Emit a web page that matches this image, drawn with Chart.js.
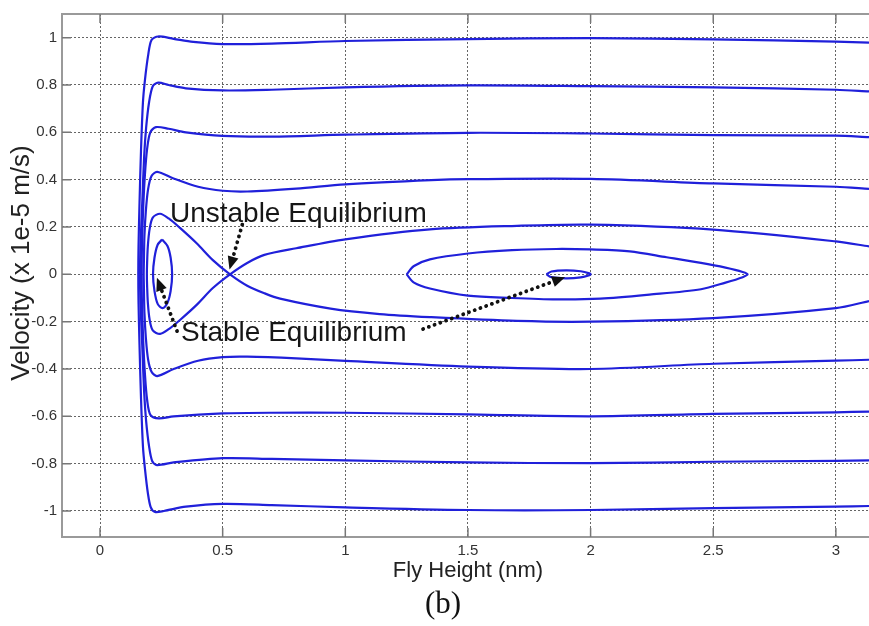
<!DOCTYPE html>
<html lang="en">
<head>
	<meta charset="UTF-8">
	<title>Phase portrait (b)</title>
	<script src="https://cdn.jsdelivr.net/npm/chart.js"></script>
	<style>
		body { margin: 0; background: #fff; }
		canvas { display: block; }
	</style>
</head>
<body>
	<canvas id="phaseChart" width="869" height="626"></canvas>
<script>

// tick labels
const xTicks = [0, 0.5, 1, 1.5, 2, 2.5, 3];
const yTicks = [-1, -0.8, -0.6, -0.4, -0.2, 0, 0.2, 0.4, 0.6, 0.8, 1];

// trajectories, [fly height nm, velocity x1e-5 m/s]
const orbit10 = [
	[3.135, 0.979], [3.0, 0.983], [2.5, 0.993], [2.0, 0.998], [1.5, 0.994], [1.0, 0.986],
	[0.7, 0.975], [0.5, 0.973], [0.38, 0.982], [0.3, 0.995], [0.237, 1.005], [0.21, 0.99],
	[0.196, 0.924], [0.183, 0.82], [0.175, 0.727], [0.167, 0.52], [0.161, 0.3], [0.157, 0.12],
	[0.156, 0], [0.157, -0.12], [0.161, -0.3], [0.167, -0.52], [0.175, -0.727], [0.183, -0.82],
	[0.195, -0.924], [0.207, -0.985], [0.224, -1.004], [0.26, -1.0], [0.35, -0.982], [0.5, -0.97],
	[0.7, -0.975], [1.0, -0.985], [1.5, -0.996], [2.0, -0.996], [2.5, -0.988], [3.0, -0.982], [3.135, -0.979]
];
const orbit08 = [
	[3.135, 0.773], [3.0, 0.78], [2.5, 0.79], [2.0, 0.795], [1.5, 0.798], [1.0, 0.79],
	[0.7, 0.78], [0.5, 0.777], [0.35, 0.786], [0.28, 0.8], [0.237, 0.81], [0.215, 0.795],
	[0.2, 0.727], [0.188, 0.62], [0.18, 0.5], [0.172, 0.3], [0.165, 0.12], [0.163, 0],
	[0.165, -0.12], [0.172, -0.3], [0.18, -0.5], [0.188, -0.62], [0.2, -0.727], [0.213, -0.79],
	[0.232, -0.806], [0.3, -0.795], [0.5, -0.777], [0.7, -0.78], [1.0, -0.786], [1.5, -0.795],
	[2.0, -0.798], [2.5, -0.792], [3.0, -0.788], [3.135, -0.786]
];
const orbit06 = [
	[3.135, 0.58], [3.0, 0.586], [2.5, 0.588], [2.0, 0.595], [1.5, 0.598], [1.0, 0.59],
	[0.7, 0.582], [0.5, 0.585], [0.35, 0.6], [0.28, 0.615], [0.228, 0.622], [0.205, 0.6],
	[0.192, 0.53], [0.183, 0.42], [0.176, 0.28], [0.171, 0.12], [0.17, 0],
	[0.171, -0.12], [0.176, -0.28], [0.183, -0.42], [0.192, -0.53], [0.206, -0.595],
	[0.24, -0.609], [0.3, -0.6], [0.5, -0.588], [0.7, -0.585], [1.0, -0.585], [1.5, -0.592],
	[2.0, -0.6], [2.5, -0.59], [3.0, -0.583], [3.135, -0.58]
];
const orbit04 = [
	[3.135, 0.361], [3.0, 0.37], [2.5, 0.384], [2.0, 0.403], [1.5, 0.402], [1.35, 0.398],
	[1.0, 0.38], [0.8, 0.362], [0.6, 0.35], [0.5, 0.353], [0.4, 0.37], [0.3, 0.405],
	[0.233, 0.433], [0.21, 0.415], [0.196, 0.36], [0.187, 0.27], [0.181, 0.16], [0.179, 0.06],
	[0.178, 0], [0.179, -0.06], [0.181, -0.16], [0.187, -0.27], [0.196, -0.36], [0.21, -0.412],
	[0.233, -0.43], [0.3, -0.4], [0.4, -0.365], [0.5, -0.35], [0.6, -0.348], [0.8, -0.355],
	[1.0, -0.366], [1.5, -0.39], [2.0, -0.4], [2.5, -0.378], [3.0, -0.365], [3.135, -0.361]
];
// separatrix through the saddle
const separatrix = [
	[3.135, 0.118], [3.0, 0.139], [2.5, 0.189], [2.0, 0.21], [1.7, 0.205], [1.345, 0.19],
	[1.0, 0.148], [0.8, 0.11], [0.67, 0.082], [0.6, 0.048], [0.53, 0], [0.46, -0.058],
	[0.395, -0.128], [0.326, -0.193], [0.28, -0.232], [0.245, -0.252], [0.215, -0.237],
	[0.202, -0.19], [0.195, -0.12], [0.192, -0.05], [0.191, 0], [0.192, 0.05], [0.195, 0.12],
	[0.202, 0.19], [0.215, 0.24], [0.245, 0.256], [0.28, 0.236], [0.326, 0.196], [0.395, 0.13],
	[0.46, 0.06], [0.53, 0], [0.6, -0.048], [0.67, -0.08], [0.734, -0.103], [0.94, -0.145],
	[1.14, -0.168], [1.345, -0.181], [1.7, -0.197], [2.0, -0.2], [2.5, -0.185], [3.0, -0.143],
	[3.135, -0.113]
];
const leftLoop = [
	[0.253, 0.147], [0.275, 0.12], [0.288, 0.07], [0.294, 0], [0.288, -0.07], [0.275, -0.12],
	[0.255, -0.143], [0.235, -0.125], [0.222, -0.07], [0.216, 0], [0.222, 0.07], [0.235, 0.125],
	[0.253, 0.147]
];
const bigLoop = [
	[1.25, 0], [1.28, 0.035], [1.345, 0.063], [1.5, 0.088], [1.68, 0.102], [1.86, 0.107],
	[2.0, 0.105], [2.16, 0.097], [2.31, 0.072], [2.45, 0.048], [2.55, 0.028], [2.62, 0.01],
	[2.64, 0], [2.62, -0.012], [2.55, -0.035], [2.45, -0.063], [2.24, -0.086], [2.04, -0.103],
	[1.86, -0.106], [1.68, -0.1], [1.5, -0.09], [1.345, -0.06], [1.28, -0.035], [1.25, 0]
];
const smallLoop = [
	[1.82, 0], [1.84, 0.012], [1.9, 0.017], [1.96, 0.013], [1.995, 0.004], [2.0, 0],
	[1.995, -0.004], [1.96, -0.013], [1.9, -0.017], [1.84, -0.012], [1.82, 0]
];

const curves = [orbit10, orbit08, orbit06, orbit04, separatrix, leftLoop, bigLoop, smallLoop];

// annotations in data units
const notes = [
	{ text: 'Unstable Equilibrium', x: 0.285, y: 0.223 },
	{ text: 'Stable Equilibrium', x: 0.33, y: -0.282 }
];
const arrows = [
	{ from: [0.58, 0.21], to: [0.528, 0.02] },
	{ from: [0.314, -0.24], to: [0.232, -0.015] },
	{ from: [1.317, -0.231], to: [1.896, -0.012] }
];

const blue = 'rgb(32,32,218)';

const toPts = arr => arr.map(p => ({ x: p[0], y: p[1] }));

const decorPlugin = {
	id: 'decor',
	afterDatasetsDraw(chart) {
		const ctx = chart.ctx;
		const a = chart.chartArea;
		const xs = chart.scales.x, ys = chart.scales.y;

		// frame + inward ticks
		ctx.save();
		ctx.strokeStyle = '#9a9a9a';
		ctx.lineWidth = 2;
		ctx.beginPath();
		ctx.moveTo(a.right + 2, a.top); ctx.lineTo(a.left, a.top);
		ctx.lineTo(a.left, a.bottom); ctx.lineTo(a.right + 2, a.bottom);
		ctx.stroke();
		ctx.strokeStyle = '#777';
		ctx.lineWidth = 1.5;
		ctx.beginPath();
		xTicks.forEach(v => {
			const px = xs.getPixelForValue(v);
			ctx.moveTo(px, a.bottom); ctx.lineTo(px, a.bottom - 9);
			ctx.moveTo(px, a.top); ctx.lineTo(px, a.top + 9);
		});
		yTicks.forEach(v => {
			const py = ys.getPixelForValue(v);
			ctx.moveTo(a.left, py); ctx.lineTo(a.left + 9, py);
		});
		ctx.stroke();
		ctx.restore();

		// dotted arrows
		ctx.save();
		arrows.forEach(ar => {
			const x0 = xs.getPixelForValue(ar.from[0]), y0 = ys.getPixelForValue(ar.from[1]);
			const x1 = xs.getPixelForValue(ar.to[0]), y1 = ys.getPixelForValue(ar.to[1]);
			const ang = Math.atan2(y1 - y0, x1 - x0);
			const head = 13;
			const bx = x1 - head * Math.cos(ang), by = y1 - head * Math.sin(ang);
			ctx.strokeStyle = '#111';
			ctx.lineWidth = 3.8;
			ctx.lineCap = 'round';
			ctx.setLineDash([0.1, 6]);
			ctx.beginPath();
			ctx.moveTo(x0, y0); ctx.lineTo(bx, by);
			ctx.stroke();
			ctx.setLineDash([]);
			ctx.fillStyle = '#111';
			ctx.beginPath();
			ctx.moveTo(x1, y1);
			ctx.lineTo(bx + 5.5 * Math.sin(ang), by - 5.5 * Math.cos(ang));
			ctx.lineTo(bx - 5.5 * Math.sin(ang), by + 5.5 * Math.cos(ang));
			ctx.closePath();
			ctx.fill();
		});
		ctx.restore();

		// labels
		ctx.save();
		ctx.fillStyle = '#161616';
		ctx.font = '28px "Liberation Sans", Arial, sans-serif';
		ctx.textAlign = 'left';
		ctx.textBaseline = 'alphabetic';
		notes.forEach(n => {
			ctx.fillText(n.text, xs.getPixelForValue(n.x), ys.getPixelForValue(n.y));
		});
		ctx.restore();
	},
	afterDraw(chart) {
		const ctx = chart.ctx;
		ctx.save();
		ctx.fillStyle = '#222';
		ctx.textAlign = 'center';
		ctx.textBaseline = 'middle';
		ctx.font = '22px "Liberation Sans", Arial, sans-serif';
		ctx.fillText('Fly Height (nm)', 468, 571);
		ctx.font = '31px "Liberation Serif", "Times New Roman", serif';
		ctx.fillStyle = '#111';
		ctx.fillText('(b)', 443, 605);
		ctx.translate(22, 263);
		ctx.rotate(-Math.PI / 2);
		ctx.fillStyle = '#222';
		ctx.font = '26px "Liberation Sans", Arial, sans-serif';
		ctx.fillText('Velocity (x 1e-5 m/s)', 0, 0);
		ctx.restore();
	}
};

const fmt = v => String(Math.round(v * 10) / 10);

const ctx = document.getElementById('phaseChart').getContext('2d');
const phaseChart = new Chart(ctx, {
	type: 'scatter',
	data: {
		datasets: curves.map(c => ({
			data: toPts(c),
			showLine: true,
			borderColor: blue,
			borderWidth: 2.2,
			pointRadius: 0,
			fill: false,
			tension: 0.3
		}))
	},
	options: {
		responsive: false,
		animation: false,
		devicePixelRatio: 1,
		layout: { padding: { top: 11, right: 0, left: 0, bottom: 0 } },
		plugins: { legend: { display: false }, tooltip: { enabled: false } },
		scales: {
			x: {
				type: 'linear',
				min: -0.155,
				max: 3.135,
				afterBuildTicks: s => { s.ticks = xTicks.map(v => ({ value: v })); },
				afterFit: s => { s.height = 89; },
				grid: { color: 'rgba(50,50,50,0.75)', lineWidth: 1, drawTicks: false },
				border: { display: false, dash: [2, 2] },
				ticks: {
					padding: 5,
					color: '#333',
					font: { family: '"Liberation Sans", Arial, sans-serif', size: 15 },
					callback: v => fmt(v)
				}
			},
			y: {
				type: 'linear',
				min: -1.11,
				max: 1.10,
				afterBuildTicks: s => { s.ticks = yTicks.map(v => ({ value: v })); },
				afterFit: s => { s.width = 62; },
				grid: { color: 'rgba(50,50,50,0.75)', lineWidth: 1, drawTicks: false },
				border: { display: false, dash: [2, 2] },
				ticks: {
					padding: 5,
					color: '#333',
					font: { family: '"Liberation Sans", Arial, sans-serif', size: 15 },
					callback: v => fmt(v)
				}
			}
		}
	},
	plugins: [decorPlugin]
});

</script>
</body>
</html>
